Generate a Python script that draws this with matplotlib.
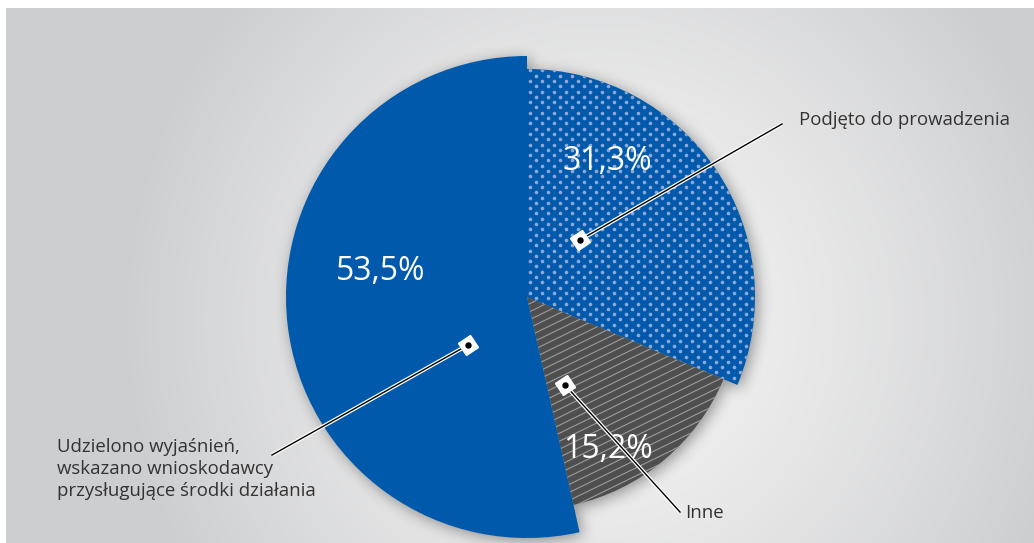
"""
Pie chart: sposób załatwienia wniosków (53,5% / 31,3% / 15,2%).
Canvas is laid out in pixel units so the pie, labels and leaders line up.
"""
import numpy as np
import matplotlib.pyplot as plt
from matplotlib.collections import LineCollection
from matplotlib.markers import MarkerStyle
from matplotlib.transforms import Affine2D

plt.rcParams["font.family"] = ["Open Sans", "DejaVu Sans"]

# --- data (order = drawing order, clockwise from 12 o'clock) ---
categories = [
    "Podjęto do prowadzenia",
    "Inne",
    "Udzielono wyjaśnień,\nwskazano wnioskodawcy\nprzysługujące środki działania",
]
shares = [31.3, 15.2, 53.5]
share_labels = ["31,3%", "15,2%", "53,5%"]

BLUE = "#0059AB"
DOT = "#8DA8D8"
DARK = "#4F4F4F"
STRIPE = "#9C9C9C"
TEXT = "#333333"

W, H = 1034, 543
fig = plt.figure(figsize=(W / 100, H / 100), dpi=100, facecolor="white")
ax = fig.add_axes([0, 0, 1, 1])

# background panel with a soft radial gradient
gx, gy = np.meshgrid(np.arange(W) + 0.5, np.arange(H) + 0.5)
t = np.clip(np.sqrt(((gx - 600) / 480) ** 2 + ((gy - 223) / 500) ** 2), 0, 1) ** 1.4
light = np.array([0xF4, 0xF4, 0xF4]) / 255
dark = np.array([0xCD, 0xCE, 0xD0]) / 255
bg = light + (dark - light) * t[..., None]
ax.imshow(bg[:535, 6:], extent=(6, W, 0, 535), origin="lower", zorder=0)

# pie
cx, cy = 527, H - 297
radii = [228, 213, 241]
wedges, _ = ax.pie(shares, startangle=90, counterclock=False, center=(cx, cy),
                   radius=241, colors=[BLUE, DARK, BLUE],
                   wedgeprops=dict(linewidth=0), frame=True)
for w, r in zip(wedges, radii):
    w.set_radius(r)
    w.set_zorder(3)

# soft drop shadow built from the wedge geometry
ang = np.degrees(np.arctan2(gy - (cy - 3), gx - (cx + 3)))
rr = np.hypot(gx - (cx + 3), gy - (cy - 3))
mask = np.zeros_like(rr)
for w, r in zip(wedges, radii):
    lo, hi = min(w.theta1, w.theta2), max(w.theta1, w.theta2)
    a = (ang - lo) % 360
    inside = (a <= (hi - lo)) & (rr <= r)
    mask[inside] = 1.0

def blur(a, sigma):
    x = np.arange(-3 * sigma, 3 * sigma + 1)
    k = np.exp(-0.5 * (x / sigma) ** 2)
    k /= k.sum()
    a = np.apply_along_axis(lambda v: np.convolve(v, k, mode="same"), 1, a)
    return np.apply_along_axis(lambda v: np.convolve(v, k, mode="same"), 0, a)

shadow = np.zeros((H, W, 4))
shadow[..., 3] = blur(mask, 7) * 0.38
ax.imshow(shadow, extent=(0, W, 0, H), origin="lower", zorder=2)

# dotted texture on the first wedge
pts = []
for j, yv in enumerate(np.arange(cy - 245, cy + 245, 5.3)):
    for xv in np.arange(cx - 3 + (j % 2) * 6, cx + 245, 12):
        pts.append((xv, yv))
pts = np.array(pts)
dots = ax.scatter(pts[:, 0], pts[:, 1], s=7, color=DOT, linewidths=0, zorder=4)
dots.set_clip_path(wedges[0])

# striped texture on the second wedge
slope = np.tan(np.radians(26))
segs = []
for c in np.arange(cy - 400, cy + 100, 8):
    x0, x1 = cx - 20, cx + 260
    segs.append([(x0, c + slope * (x0 - cx)), (x1, c + slope * (x1 - cx))])
stripes = LineCollection(segs, colors=STRIPE, linewidths=0.8, zorder=4)
ax.add_collection(stripes)
stripes.set_clip_path(wedges[1])

# percentage labels
pct_pos = [(607, 162), (608, 450), (381, 272)]
for lab, (x, y) in zip(share_labels, pct_pos):
    ax.text(x, H - y, lab, color="white", fontsize=23, ha="center", va="center",
            zorder=6)

# leader lines with square markers
marker_pos = [(580, 240), (565, 385), (468, 345)]
leader_end = [(782, 124), (680, 512), (272, 455)]
sq = MarkerStyle("s", transform=Affine2D().rotate_deg(35))
for (mx, my), (ex, ey) in zip(marker_pos, leader_end):
    ax.plot([mx, ex], [H - my, H - ey], color="white", lw=2.8, zorder=7,
            solid_capstyle="butt")
    ax.plot([mx, ex], [H - my, H - ey], color="black", lw=1.0, zorder=7)
    ax.plot(mx, H - my, marker=sq, ms=10, mfc="white", mec="white", zorder=8)
    ax.plot(mx, H - my, marker="o", ms=3.6, mfc="black", mec="black", zorder=9)

# category labels
cat_pos = [(799, 120), (685, 513), (57, 469)]
for lab, (x, y) in zip(categories, cat_pos):
    ax.text(x, H - y, lab, color=TEXT, fontsize=13.4, ha="left", va="center",
            linespacing=1.3, zorder=6)

ax.set_xlim(0, W)
ax.set_ylim(0, H)
ax.set_aspect("auto")
ax.axis("off")
fig.savefig("out.png", dpi=100, facecolor="white")
